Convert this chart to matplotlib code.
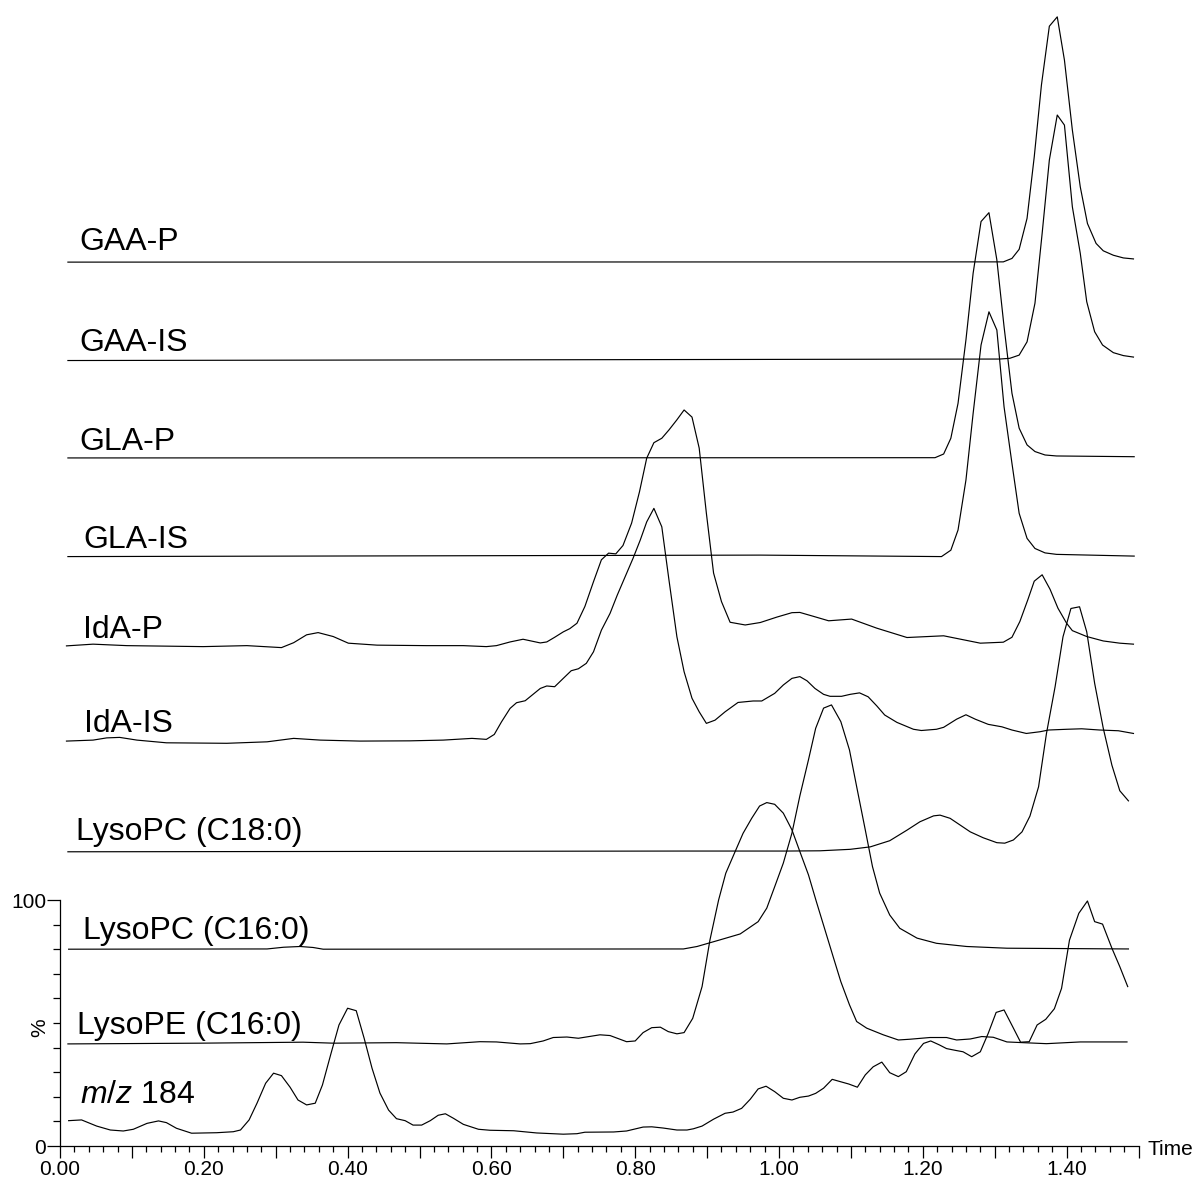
import matplotlib
matplotlib.use("Agg")
import matplotlib.pyplot as plt
from matplotlib.ticker import MultipleLocator, FixedLocator, FuncFormatter

plt.rcParams['font.family'] = ['Liberation Sans', 'DejaVu Sans']
plt.rcParams['mathtext.fontset'] = 'custom'
plt.rcParams['mathtext.it'] = 'Liberation Sans:italic'
plt.rcParams['mathtext.rm'] = 'Liberation Sans'

# ---- chromatogram data: retention time (min) and relative intensity (%) ----
gaa_p_t = [0.011, 1.312, 1.324, 1.334, 1.345, 1.355, 1.365, 1.376, 1.387, 1.397,
           1.408, 1.419, 1.429, 1.441, 1.451, 1.465, 1.479, 1.493]
gaa_p_i = [0.0, 0.1, 1.5, 5.2, 17.8, 42.8, 72.0, 95.9, 99.7, 82.1,
           53.7, 30.6, 15.7, 7.6, 4.6, 2.8, 1.7, 1.3]

gaa_is_t = [0.011, 1.307, 1.321, 1.334, 1.345, 1.356, 1.366, 1.376, 1.387, 1.397,
            1.408, 1.419, 1.428, 1.439, 1.450, 1.465, 1.479, 1.493]
gaa_is_i = [0.0, 0.6, 0.9, 2.2, 7.6, 23.3, 51.7, 81.5, 99.8, 95.7,
            62.5, 43.6, 23.9, 11.7, 6.3, 3.2, 2.0, 1.4]

gla_p_t = [0.011, 1.217, 1.229, 1.239, 1.249, 1.260, 1.270, 1.281, 1.292, 1.303,
           1.313, 1.324, 1.334, 1.345, 1.356, 1.370, 1.386, 1.494]
gla_p_i = [0.0, 0.1, 1.6, 8.0, 22.2, 48.0, 75.1, 96.1, 99.7, 80.5,
           53.4, 26.3, 12.1, 5.3, 2.6, 1.2, 0.8, 0.5]

gla_is_t = [0.011, 0.974, 1.226, 1.239, 1.249, 1.260, 1.270, 1.281, 1.292, 1.303,
            1.313, 1.324, 1.334, 1.345, 1.356, 1.370, 1.386, 1.494]
gla_is_i = [0.0, 0.6, 0.0, 2.6, 10.8, 31.1, 58.2, 86.0, 99.5, 92.1,
            60.9, 37.9, 17.6, 7.4, 3.3, 1.5, 0.9, 0.2]

ida_p_t = [0.009, 0.046, 0.093, 0.199, 0.260, 0.308, 0.325, 0.343, 0.359, 0.380,
           0.401, 0.441, 0.510, 0.561, 0.593, 0.607, 0.626, 0.644, 0.668, 0.677,
           0.688, 0.700, 0.709, 0.719, 0.730, 0.742, 0.753, 0.763, 0.773, 0.783,
           0.795, 0.806, 0.816, 0.826, 0.837, 0.847, 0.858, 0.868, 0.879, 0.889,
           0.899, 0.909, 0.920, 0.932, 0.953, 0.974, 0.997, 1.018, 1.029, 1.048,
           1.069, 1.101, 1.136, 1.178, 1.229, 1.280, 1.312, 1.324, 1.335, 1.346,
           1.355, 1.366, 1.377, 1.388, 1.400, 1.408, 1.428, 1.451, 1.474, 1.493]
ida_p_i = [0.0, 0.7, 0.1, -0.3, 0.1, -0.7, 1.3, 4.5, 5.4, 3.8,
           1.1, 0.3, 0.1, 0.1, -0.3, 0.1, 1.6, 2.7, 1.2, 1.6,
           3.5, 5.7, 7.0, 9.2, 16.0, 26.1, 35.0, 37.7, 37.4, 40.8,
           49.9, 62.7, 76.3, 82.6, 84.4, 87.8, 91.9, 95.9, 93.0, 80.4,
           53.9, 29.6, 18.0, 9.6, 8.5, 9.5, 11.7, 13.5, 13.6, 12.0,
           10.2, 10.9, 7.2, 3.4, 4.1, 1.1, 1.5, 3.5, 9.9, 18.7,
           26.3, 28.9, 23.0, 15.3, 9.2, 6.2, 3.8, 2.0, 1.1, 0.7]

ida_is_t = [0.009, 0.046, 0.065, 0.083, 0.107, 0.148, 0.232, 0.288, 0.325, 0.362,
            0.417, 0.487, 0.533, 0.573, 0.593, 0.604, 0.614, 0.626, 0.635, 0.647,
            0.668, 0.677, 0.688, 0.700, 0.711, 0.721, 0.732, 0.742, 0.753, 0.765,
            0.775, 0.786, 0.797, 0.807, 0.816, 0.826, 0.837, 0.847, 0.858, 0.868,
            0.879, 0.889, 0.899, 0.911, 0.925, 0.943, 0.964, 0.976, 0.994, 1.006,
            1.018, 1.029, 1.039, 1.050, 1.062, 1.071, 1.087, 1.099, 1.112, 1.124,
            1.136, 1.147, 1.164, 1.187, 1.198, 1.219, 1.229, 1.247, 1.260, 1.273,
            1.291, 1.310, 1.324, 1.344, 1.363, 1.375, 1.400, 1.421, 1.446, 1.472,
            1.493]
ida_is_i = [0.0, 0.4, 1.3, 1.5, 0.4, -0.7, -0.9, -0.3, 1.1, 0.4,
            0.0, 0.1, 0.4, 1.1, 0.7, 2.7, 7.8, 13.3, 15.6, 16.4,
            21.4, 22.4, 22.1, 25.5, 28.6, 29.4, 31.6, 36.3, 45.1, 51.9,
            59.3, 66.8, 74.3, 81.7, 89.1, 94.6, 87.1, 65.4, 42.4, 28.2,
            17.4, 11.9, 7.2, 8.5, 11.9, 15.7, 16.3, 16.3, 19.4, 22.8,
            25.5, 26.2, 24.5, 21.4, 19.0, 18.2, 18.2, 19.0, 19.6, 18.0,
            14.3, 10.6, 7.6, 4.8, 4.3, 4.8, 5.6, 8.9, 10.7, 8.9,
            6.8, 5.8, 4.5, 3.1, 3.8, 4.5, 4.8, 5.0, 4.5, 4.2,
            3.1]

lpc18_t = [0.011, 0.872, 1.011, 1.057, 1.099, 1.127, 1.154, 1.178, 1.196, 1.215,
           1.224, 1.238, 1.266, 1.284, 1.303, 1.314, 1.326, 1.338, 1.349, 1.361,
           1.372, 1.384, 1.395, 1.406, 1.418, 1.428, 1.439, 1.451, 1.463, 1.474,
           1.486]
lpc18_i = [0.0, 0.3, 0.3, 0.4, 1.0, 2.0, 4.5, 8.8, 12.2, 14.6,
           14.9, 13.6, 8.1, 5.7, 3.7, 3.5, 4.8, 8.1, 14.5, 26.4,
           48.1, 67.1, 87.4, 98.9, 99.6, 89.4, 68.5, 50.2, 35.2, 24.8,
           20.7]

lpc16_t = [0.012, 0.288, 0.311, 0.334, 0.352, 0.366, 0.867, 0.886, 0.918, 0.946,
           0.971, 0.983, 0.994, 1.006, 1.018, 1.029, 1.041, 1.051, 1.062, 1.073,
           1.086, 1.098, 1.108, 1.120, 1.130, 1.140, 1.154, 1.168, 1.192, 1.219,
           1.261, 1.317, 1.486]
lpc16_i = [0.0, 0.1, 0.8, 1.1, 0.7, 0.0, 0.1, 1.1, 3.8, 6.2,
           11.2, 16.7, 25.4, 35.0, 47.2, 62.3, 77.0, 89.8, 98.0, 99.3,
           92.5, 81.0, 66.1, 48.5, 33.6, 22.8, 13.9, 8.5, 4.5, 2.4,
           1.1, 0.4, 0.1]

lpe16_t = [0.011, 0.195, 0.338, 0.380, 0.468, 0.538, 0.584, 0.607, 0.640, 0.654,
           0.672, 0.686, 0.705, 0.721, 0.751, 0.765, 0.788, 0.800, 0.811, 0.823,
           0.835, 0.846, 0.858, 0.868, 0.880, 0.893, 0.904, 0.916, 0.926, 0.939,
           0.950, 0.962, 0.973, 0.983, 0.994, 1.006, 1.018, 1.029, 1.041, 1.052,
           1.064, 1.076, 1.086, 1.098, 1.108, 1.122, 1.145, 1.166, 1.182, 1.210,
           1.233, 1.247, 1.266, 1.282, 1.298, 1.317, 1.340, 1.372, 1.419, 1.484]
lpe16_i = [-0.2, 0.1, 0.5, 0.1, 0.3, -0.2, 0.7, 0.6, -0.2, -0.1,
           1.0, 2.4, 2.6, 2.1, 3.5, 3.2, 0.7, 1.0, 4.4, 6.4,
           6.6, 4.8, 3.9, 4.4, 10.2, 23.1, 42.1, 58.3, 69.2, 78.0,
           85.4, 91.5, 96.5, 97.9, 97.2, 93.6, 86.8, 78.0, 68.5, 57.6,
           46.1, 34.6, 25.1, 15.7, 8.9, 6.2, 3.5, 1.4, 1.7, 2.4,
           2.4, 1.4, 1.8, 2.8, 2.5, 0.6, 0.3, -0.1, 0.6, 0.6]

mz184_t = [0.012, 0.030, 0.051, 0.070, 0.088, 0.102, 0.121, 0.137, 0.148, 0.162,
           0.183, 0.218, 0.241, 0.251, 0.263, 0.274, 0.286, 0.297, 0.308, 0.320,
           0.331, 0.343, 0.355, 0.365, 0.377, 0.388, 0.400, 0.412, 0.423, 0.434,
           0.445, 0.457, 0.468, 0.480, 0.491, 0.503, 0.515, 0.526, 0.536, 0.547,
           0.561, 0.582, 0.598, 0.631, 0.663, 0.700, 0.719, 0.730, 0.770, 0.788,
           0.811, 0.823, 0.839, 0.858, 0.872, 0.881, 0.893, 0.909, 0.925, 0.936,
           0.948, 0.960, 0.971, 0.982, 0.994, 1.006, 1.018, 1.029, 1.041, 1.051,
           1.062, 1.074, 1.086, 1.097, 1.109, 1.120, 1.131, 1.143, 1.154, 1.166,
           1.177, 1.189, 1.201, 1.211, 1.223, 1.233, 1.245, 1.256, 1.268, 1.280,
           1.291, 1.302, 1.313, 1.325, 1.336, 1.348, 1.359, 1.371, 1.383, 1.393,
           1.404, 1.417, 1.429, 1.439, 1.450, 1.463, 1.474, 1.485]
mz184_i = [10.3, 10.6, 8.1, 6.5, 6.1, 6.8, 9.2, 10.2, 9.5, 7.2,
           5.2, 5.4, 5.8, 6.5, 10.6, 17.4, 25.5, 29.6, 28.6, 23.9,
           18.7, 16.7, 17.4, 24.8, 37.7, 49.2, 56.0, 55.0, 43.8, 31.6,
           21.5, 14.6, 11.1, 10.3, 8.5, 8.5, 10.3, 12.5, 13.1, 11.3,
           8.8, 6.8, 6.4, 6.2, 5.3, 4.8, 5.0, 5.6, 5.7, 6.1,
           7.7, 7.8, 7.3, 6.5, 6.5, 7.0, 8.1, 10.9, 13.3, 13.8,
           15.3, 19.0, 23.2, 24.3, 22.1, 19.4, 18.7, 19.8, 20.3, 21.4,
           23.5, 27.1, 26.1, 25.2, 23.9, 28.9, 32.2, 34.1, 29.8, 28.2,
           30.2, 37.4, 41.7, 42.7, 41.1, 39.6, 38.9, 38.3, 36.3, 38.3,
           45.8, 54.3, 55.3, 48.5, 42.2, 42.4, 49.2, 51.5, 55.8, 64.1,
           83.7, 94.6, 99.6, 91.2, 90.2, 80.4, 72.9, 64.8]

trace_names = ["GAA-P", "GAA-IS", "GLA-P", "GLA-IS", "IdA-P", "IdA-IS",
               "LysoPC (C18:0)", "LysoPC (C16:0)", "LysoPE (C16:0)", r"$\it{m/z}$ 184"]
trace_times = [gaa_p_t, gaa_is_t, gla_p_t, gla_is_t, ida_p_t, ida_is_t,
               lpc18_t, lpc16_t, lpe16_t, mz184_t]
trace_values = [gaa_p_i, gaa_is_i, gla_p_i, gla_is_i, ida_p_i, ida_is_i,
                lpc18_i, lpc16_i, lpe16_i, mz184_i]

# ---- stacking layout (vertical offset of each trace, label anchor) ----
offsets = [359.3, 319.3, 279.7, 239.6, 203.3, 164.6, 119.6, 80.0, 41.7, 0.0]
label_x = [0.027, 0.027, 0.027, 0.032, 0.032, 0.033, 0.022, 0.032, 0.023, 0.028]
label_y = [364.2, 323.3, 282.9, 243.0, 206.4, 168.4, 124.4, 84.1, 45.5, 17.6]

W, H = 1201, 1186
fig = plt.figure(figsize=(W / 100, H / 100), dpi=100)
ax = fig.add_axes([60 / W, 40 / H, 1078.5 / W, 1146 / H])
ax.set_xlim(0, 1.5)
ax.set_ylim(0, 1146 / 2.46)

for t, v, off in zip(trace_times, trace_values, offsets):
    ax.plot(t, [off + y for y in v], color="black", lw=0.85)

for name, lx, ly in zip(trace_names, label_x, label_y):
    ax.text(lx, ly, name, fontsize=23, ha="left", va="baseline")

# axes styling
for side in ("top", "right"):
    ax.spines[side].set_visible(False)
ax.spines["left"].set_bounds(0, 100)
for side in ("left", "bottom"):
    ax.spines[side].set_linewidth(0.9)

ax.xaxis.set_major_locator(MultipleLocator(0.1))
ax.xaxis.set_minor_locator(MultipleLocator(0.02))
ax.xaxis.set_major_formatter(FuncFormatter(
    lambda v, p: f"{v:.2f}" if (round(v * 10) % 2 == 0 and v < 1.45) else ""))
ax.tick_params(axis="x", which="major", direction="out", length=8.6, width=0.9,
               labelsize=15, pad=1.5)
ax.tick_params(axis="x", which="minor", direction="out", length=4.5, width=0.9)

ax.yaxis.set_major_locator(FixedLocator([0, 100]))
ax.yaxis.set_minor_locator(FixedLocator(list(range(10, 100, 10))))
ax.yaxis.set_major_formatter(FuncFormatter(lambda v, p: f"{v:.0f}"))
ax.tick_params(axis="y", which="major", direction="out", length=9.5, width=0.9,
               labelsize=15, pad=0.5)
ax.tick_params(axis="y", which="minor", direction="out", length=5, width=0.9)

ax.text(-0.028, 48, "%", rotation=90, fontsize=15, ha="center", va="center",
        clip_on=False)
ax.text(1.513, -1.6, "Time", fontsize=15, ha="left", va="center", clip_on=False)

fig.savefig("out.png", dpi=100, facecolor="white")
